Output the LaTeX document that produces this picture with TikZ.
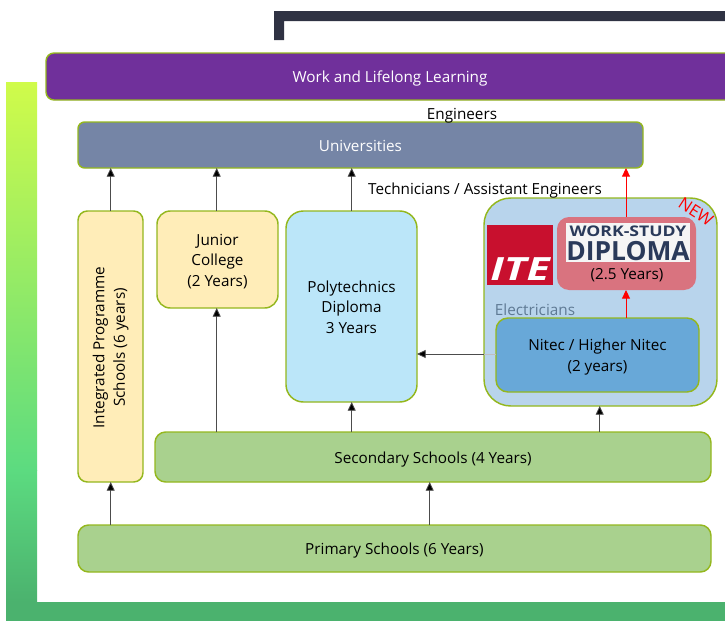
\documentclass[tikz,border=0pt]{standalone}
\usepackage{fontspec}
\usepackage{graphicx}
\setmainfont{Open Sans}
\usetikzlibrary{arrows.meta}
\definecolor{edgegreen}{HTML}{94B71E}
\definecolor{purplefill}{HTML}{70309B}
\definecolor{unifill}{HTML}{7585A6}
\definecolor{creamfill}{HTML}{FFEDB8}
\definecolor{skyfill}{HTML}{BBE6F9}
\definecolor{greenfill}{HTML}{A9D18E}
\definecolor{outerfill}{HTML}{B8D4EC}
\definecolor{rosefill}{HTML}{D9737F}
\definecolor{nitecfill}{HTML}{68A8D8}
\definecolor{itered}{HTML}{C8102E}
\definecolor{navyframe}{HTML}{2F3243}
\definecolor{logonavy}{HTML}{2A3A5A}
\definecolor{barlime}{HTML}{D0FB4A}
\definecolor{barmint}{HTML}{5CDB80}
\definecolor{barsea}{HTML}{4BB26E}
\definecolor{eleccol}{HTML}{5F7A94}
\tikzset{
  pxbox/.style={draw=edgegreen,line width=1.1pt,inner sep=0pt,outer sep=0pt,align=center,text=black,
    font=\fontsize{11.45}{15.4}\selectfont},
  conn/.style={draw=black!70,line width=0.6pt,-{Triangle[length=6.5pt,width=6pt,fill=black]}},
  redconn/.style={draw=red,line width=0.7pt,-{Triangle[length=6.5pt,width=6pt,fill=red]}},
  lab/.style={inner sep=0pt,font=\fontsize{11.45}{15.4}\selectfont,text=black}
}
% name, x1, y1, x2, y2 in reference pixels; opts; text (glyphs sit 1.5pt under the box centre)
\newcommand{\pxnode}[7][]{%
  \node[pxbox,#1,minimum width={(#4-#2)*0.75pt},minimum height={(#5-#3)*0.75pt}] (#6)
    at ({(#2+#4)/2},{(#3+#5)/2}) {\raisebox{-1.5pt}[\height][\depth]{\begin{tabular}{@{}c@{}}#7\end{tabular}}};}
\begin{document}
\begin{tikzpicture}[x=0.75pt,y=-0.75pt]
\clip (0,0) rectangle (725,621);
% background frames
\fill[navyframe] (274,40) -- (274,11) -- (725,11) -- (725,21) -- (284,21) -- (284,40) -- cycle;
\shade[top color=barlime,bottom color=barmint] (6,82) rectangle (37,470);
\shade[top color=barmint,bottom color=barsea] (6,470) rectangle (37,602);
\fill[barsea] (6,602) rectangle (725,621);
% boxes
\pxnode[fill=purplefill,text=white,rounded corners=6pt]{46}{53}{734}{100}{work}{Work and Lifelong Learning}
\pxnode[fill=unifill,text=white,rounded corners=5pt]{78}{122}{643}{168}{uni}{Universities}
\pxnode[fill=creamfill,rounded corners=7pt]{78}{211}{143}{482}{ip}{\raisebox{-1.5pt}[\height][\depth]{\rotatebox{90}{\begin{tabular}{@{}c@{}}Integrated Programme\\Schools (6 years)\end{tabular}}}}
\pxnode[fill=creamfill,rounded corners=10pt]{157}{211}{278}{308}{jc}{Junior\\College\\(2 Years)}
\pxnode[fill=skyfill,rounded corners=13pt]{286}{211}{417}{402}{poly}{Polytechnics\\Diploma\\3 Years}
\pxnode[fill=outerfill,rounded corners=20pt]{484}{198}{717}{406}{ite}{}
\pxnode[fill=rosefill,draw=none,rounded corners=9pt]{557}{217}{696}{290}{wsd}{}
\pxnode[fill=nitecfill,rounded corners=9pt]{496}{318}{699}{392}{nitec}{Nitec / Higher Nitec\\(2 years)}
\pxnode[fill=greenfill,rounded corners=8pt]{155}{432}{711}{482}{sec}{Secondary Schools (4 Years)}
\pxnode[fill=greenfill,rounded corners=8pt]{78}{525}{711}{572}{pri}{Primary Schools (6 Years)}
% ITE logo
\pxnode[fill=itered,draw=none]{487}{225}{553}{285}{itelogo}{}
\node[inner sep=0pt,text=white,font=\bfseries\itshape\selectfont] (itetext) at (520,269) {\scalebox{2}[1.5]{\fontsize{16}{16}\selectfont ITE}};
% Work-study logo
\pxnode[fill=white!92!gray,draw=none]{566}{223}{690}{262}{wslogo}{}
\node[inner sep=0pt,text=logonavy,font=\fontsize{11}{12}\bfseries\selectfont] (wsline) at (628,231) {\scalebox{1.2}[1]{WORK-STUDY}};
\node[inner sep=0pt,text=logonavy,font=\fontsize{19.8}{20}\bfseries\selectfont] (dipline) at (628,251) {DIPLOMA};
\node[lab] (yrs) at (627,275) {(2.5 Years)};
% free labels
\node[lab] (eng) at (462,116) {Engineers};
\node[lab] (tech) at (485,191) {Technicians / Assistant Engineers};
\node[inner sep=0pt,text=red,rotate=-33,font=\fontsize{12.5}{14}\selectfont] (newl) at (696,212) {NEW};
\node[inner sep=0pt,text=eleccol,font=\fontsize{11.5}{13}\selectfont] (elec) at (535,310) {Electricians};
% anchor columns
\coordinate (cA) at (110.7,0);
\coordinate (cB) at (216.7,0);
\coordinate (cC) at (351.7,0);
\coordinate (cD) at (429.7,0);
\coordinate (cE) at (599.7,0);
\coordinate (cF) at (626,0);
\coordinate (rH) at (0,354);
% connectors
\draw[conn] (ip.north -| cA) -- (uni.south -| cA);
\draw[conn] (jc.north -| cB) -- (uni.south -| cB);
\draw[conn] (poly.north -| cC) -- (uni.south -| cC);
\draw[redconn] (wsd.north -| cF) -- (uni.south -| cF);
\draw[redconn] (nitec.north -| cF) -- (wsd.south -| cF);
\draw[draw=black!25,line width=0.6pt] (nitec.west |- rH) -- (ite.west |- rH);
\draw[conn] (ite.west |- rH) -- (poly.east |- rH);
\draw[conn] (sec.north -| cB) -- (jc.south -| cB);
\draw[conn] (sec.north -| cC) -- (poly.south -| cC);
\draw[conn] (sec.north -| cE) -- (ite.south -| cE);
\draw[conn] (pri.north -| cA) -- (ip.south -| cA);
\draw[conn] (pri.north -| cD) -- (sec.south -| cD);
\end{tikzpicture}
\end{document}
